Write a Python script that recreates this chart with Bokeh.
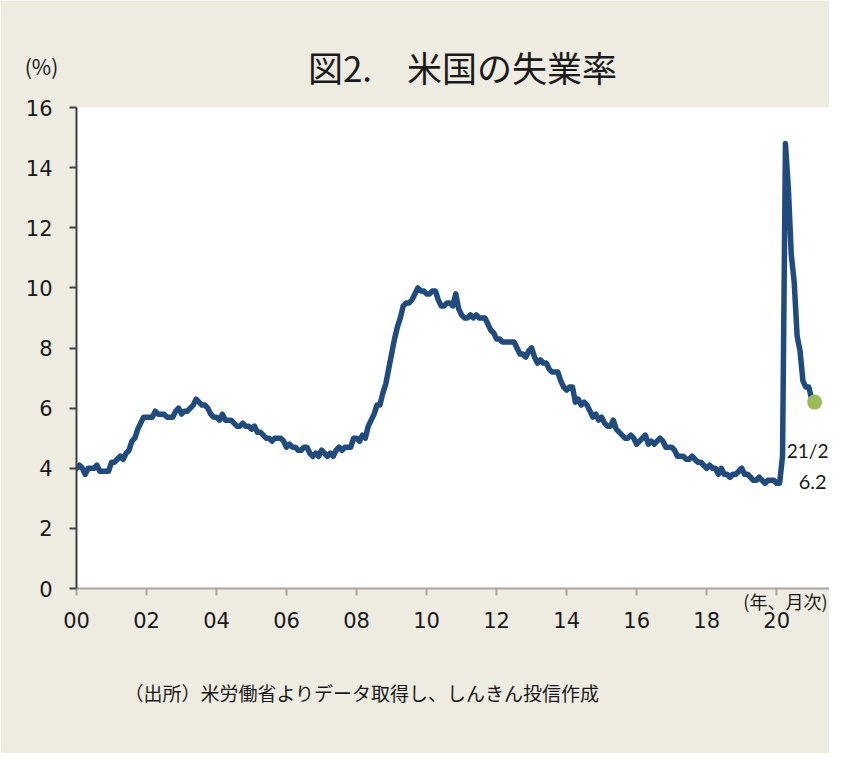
from bokeh.plotting import figure
from bokeh.models import Range1d, FixedTicker, Label
from bokeh.core.properties import value
from bokeh.embed import file_html
from bokeh.resources import INLINE

# US unemployment rate (%), monthly, Jan 2000 - Feb 2021
rate_2000 = [4.0, 4.1, 4.0, 3.8, 4.0, 4.0, 4.0, 4.1, 3.9, 3.9, 3.9, 3.9]
rate_2001 = [4.2, 4.2, 4.3, 4.4, 4.3, 4.5, 4.6, 4.9, 5.0, 5.3, 5.5, 5.7]
rate_2002 = [5.7, 5.7, 5.7, 5.9, 5.8, 5.8, 5.8, 5.7, 5.7, 5.7, 5.9, 6.0]
rate_2003 = [5.8, 5.9, 5.9, 6.0, 6.1, 6.3, 6.2, 6.1, 6.1, 6.0, 5.8, 5.7]
rate_2004 = [5.7, 5.6, 5.8, 5.6, 5.6, 5.6, 5.5, 5.4, 5.4, 5.5, 5.4, 5.4]
rate_2005 = [5.3, 5.4, 5.2, 5.2, 5.1, 5.0, 5.0, 4.9, 5.0, 5.0, 5.0, 4.9]
rate_2006 = [4.7, 4.8, 4.7, 4.7, 4.6, 4.6, 4.7, 4.7, 4.5, 4.4, 4.5, 4.4]
rate_2007 = [4.6, 4.5, 4.4, 4.5, 4.4, 4.6, 4.7, 4.6, 4.7, 4.7, 4.7, 5.0]
rate_2008 = [5.0, 4.9, 5.1, 5.0, 5.4, 5.6, 5.8, 6.1, 6.1, 6.5, 6.8, 7.3]
rate_2009 = [7.8, 8.3, 8.7, 9.0, 9.4, 9.5, 9.5, 9.6, 9.8, 10.0, 9.9, 9.9]
rate_2010 = [9.8, 9.8, 9.9, 9.9, 9.6, 9.4, 9.4, 9.5, 9.5, 9.4, 9.8, 9.3]
rate_2011 = [9.1, 9.0, 9.0, 9.1, 9.0, 9.1, 9.0, 9.0, 9.0, 8.8, 8.6, 8.5]
rate_2012 = [8.3, 8.3, 8.2, 8.2, 8.2, 8.2, 8.2, 8.0, 7.8, 7.8, 7.7, 7.9]
rate_2013 = [8.0, 7.7, 7.5, 7.6, 7.5, 7.5, 7.3, 7.2, 7.2, 7.2, 6.9, 6.7]
rate_2014 = [6.6, 6.7, 6.7, 6.2, 6.3, 6.1, 6.2, 6.1, 5.9, 5.7, 5.8, 5.6]
rate_2015 = [5.7, 5.5, 5.4, 5.4, 5.6, 5.3, 5.2, 5.1, 5.0, 5.0, 5.1, 5.0]
rate_2016 = [4.8, 4.9, 5.0, 5.1, 4.8, 4.9, 4.8, 4.9, 5.0, 4.9, 4.7, 4.7]
rate_2017 = [4.7, 4.6, 4.4, 4.4, 4.4, 4.3, 4.3, 4.4, 4.3, 4.2, 4.2, 4.1]
rate_2018 = [4.0, 4.1, 4.0, 4.0, 3.8, 4.0, 3.8, 3.8, 3.7, 3.8, 3.8, 3.9]
rate_2019 = [4.0, 3.8, 3.8, 3.7, 3.6, 3.6, 3.7, 3.6, 3.5, 3.6, 3.6, 3.6]
rate_2020 = [3.5, 3.5, 4.4, 14.8, 13.3, 11.1, 10.2, 8.4, 7.9, 6.9, 6.7, 6.7]
rate_2021 = [6.3, 6.2]

first_year = 2000
x_tick_years = [0, 2, 4, 6, 8, 10, 12, 14, 16, 18, 20]
x_tick_labels = ["00", "02", "04", "06", "08", "10", "12", "14", "16", "18", "20"]
y_ticks = [0, 2, 4, 6, 8, 10, 12, 14, 16]

title_text = "図2.　米国の失業率"
unit_text = "(%)"
xunit_text = "(年、月次)"
source_text = "（出所）米労働省よりデータ取得し、しんきん投信作成"

series = (rate_2000 + rate_2001 + rate_2002 + rate_2003 + rate_2004 + rate_2005 +
          rate_2006 + rate_2007 + rate_2008 + rate_2009 + rate_2010 + rate_2011 +
          rate_2012 + rate_2013 + rate_2014 + rate_2015 + rate_2016 + rate_2017 +
          rate_2018 + rate_2019 + rate_2020 + rate_2021)
xs = list(range(len(series)))
last_i = xs[-1]
last_v = series[-1]
last_year = first_year + last_i // 12
last_month = last_i % 12 + 1
last_date_label = f"{last_year % 100}/{last_month}"
last_value_label = f"{last_v:.1f}"

BG = "#EEEBE1"
LINE = "#1F4B7E"
DOT = "#9BBB59"
TXT = "#1a1a1a"
CJK = "Noto Sans CJK JP"

p = figure(width=829, height=753, output_backend="svg", toolbar_location=None,
           x_range=Range1d(0, 258.1), y_range=Range1d(0, 16),
           min_border_left=76, min_border_right=0, min_border_top=107,
           min_border_bottom=165,
           background_fill_color="white", border_fill_color=BG)
p.outline_line_color = None
p.xgrid.visible = False
p.ygrid.visible = False

# y axis
p.yaxis.ticker = FixedTicker(ticks=y_ticks)
p.yaxis.axis_line_color = "#404040"
p.yaxis.axis_line_width = 2
p.yaxis.major_tick_line_color = "#404040"
p.yaxis.major_tick_line_width = 2
p.yaxis.major_tick_out = 7
p.yaxis.major_tick_in = 0
p.yaxis.minor_tick_line_color = None
p.yaxis.major_label_standoff = 17
p.yaxis.major_label_text_font = "DejaVu Sans"
p.yaxis.major_label_text_font_size = "21px"
p.yaxis.major_label_text_color = TXT

# x axis
p.xaxis.ticker = FixedTicker(ticks=[y * 12 for y in x_tick_years])
p.xaxis.major_label_overrides = {y * 12: lab for y, lab in zip(x_tick_years, x_tick_labels)}
p.xaxis.axis_line_color = "#A6A6A6"
p.xaxis.axis_line_width = 2
p.xaxis.major_tick_line_color = "#A6A6A6"
p.xaxis.major_tick_line_width = 2
p.xaxis.major_tick_out = 7
p.xaxis.major_tick_in = 0
p.xaxis.minor_tick_line_color = None
p.xaxis.major_label_standoff = 16
p.xaxis.major_label_text_font = "DejaVu Sans"
p.xaxis.major_label_text_font_size = "21px"
p.xaxis.major_label_text_color = TXT

p.line(xs, series, line_width=5.5, line_color=LINE, line_join="round", line_cap="round")
p.scatter([last_i], [last_v], size=15, fill_color=DOT, line_color=None)
p.text(x=[last_i], y=[last_v], text=[last_date_label], x_offset=-7, y_offset=48,
       text_align="center", text_baseline="middle", text_font=value("Lato"),
       text_font_size="19px", text_color=TXT)
p.text(x=[last_i], y=[last_v], text=[last_value_label], x_offset=-2, y_offset=80,
       text_align="center", text_baseline="middle", text_font=value("Lato"),
       text_font_size="20px", text_color=TXT)

p.add_layout(Label(x=462, y=66, x_units="canvas", y_units="canvas", text=title_text,
                   text_align="center", text_baseline="middle", text_font=CJK,
                   text_font_size="35px", text_color=TXT), "above")
p.add_layout(Label(x=41, y=65, x_units="canvas", y_units="canvas", text=unit_text,
                   text_align="center", text_baseline="middle", text_font=CJK,
                   text_font_size="21px", text_color=TXT), "above")
p.add_layout(Label(x=827, y=600, x_units="canvas", y_units="canvas", text=xunit_text,
                   text_align="right", text_baseline="middle", text_font=CJK,
                   text_font_size="18px", text_color=TXT), "below")
p.add_layout(Label(x=124, y=692, x_units="canvas", y_units="canvas", text=source_text,
                   text_align="left", text_baseline="middle", text_font=CJK,
                   text_font_size="19px", text_color=TXT), "below")

open("out.html", "w").write(file_html(p, INLINE))
